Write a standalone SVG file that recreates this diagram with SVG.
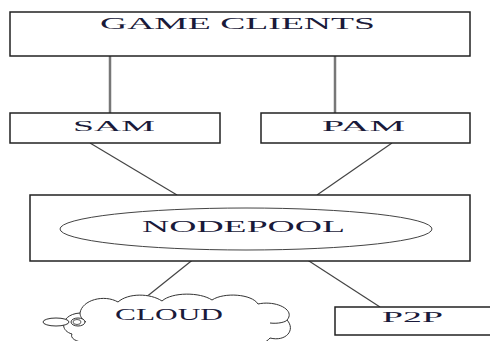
<svg xmlns="http://www.w3.org/2000/svg" width="490" height="341" viewBox="0 0 490 341">
<style>
.box{fill:#fff;stroke:#222;stroke-width:1.5}
.lbl{font-family:"Liberation Serif","Times New Roman",serif;font-size:16px;fill:#1a1a3a}
.ln{stroke:#444;stroke-width:1.2;fill:none}
.vl{stroke:#777;stroke-width:2.5;fill:none}
</style>
<rect width="490" height="341" fill="#fff"/>
<g id="connectors">
<line class="vl" x1="110" y1="56" x2="110" y2="113"/>
<line class="vl" x1="335" y1="56" x2="335" y2="113"/>
<line class="ln" x1="90" y1="143" x2="177" y2="195"/>
<line class="ln" x1="392" y1="143" x2="317" y2="195"/>
<line class="ln" x1="205" y1="250" x2="140" y2="302"/>
<line class="ln" x1="292" y1="250" x2="380" y2="307"/>
</g>
<g id="game-clients">
<rect class="box" x="10" y="12" width="460" height="44"/>
<text class="lbl" x="100" y="29" textLength="275" lengthAdjust="spacingAndGlyphs">GAME CLIENTS</text>
</g>
<g id="sam">
<rect class="box" x="10" y="113" width="210" height="30"/>
<text class="lbl" x="73" y="131" style="font-size:15px" textLength="82" lengthAdjust="spacingAndGlyphs">SAM</text>
</g>
<g id="pam">
<rect class="box" x="261" y="113" width="209" height="30"/>
<text class="lbl" x="322" y="131" style="font-size:15px" textLength="83" lengthAdjust="spacingAndGlyphs">PAM</text>
</g>
<g id="nodepool">
<rect class="box" x="30" y="195" width="440" height="66"/>
<ellipse cx="246" cy="229" rx="186" ry="21" fill="#fff" stroke="#444" stroke-width="1"/>
<text class="lbl" x="142" y="232" textLength="203" lengthAdjust="spacingAndGlyphs">NODEPOOL</text>
</g>
<g id="cloud">
<path d="M 72 334 C 58 330 62 314 80 313 C 82 300 104 294 118 302 C 128 293 150 293 162 301 C 172 292 200 292 212 300 C 224 292 252 294 258 304 C 276 300 296 310 287 320 C 296 330 286 342 270 338 C 262 348 236 348 226 343 C 210 350 180 350 168 344 C 150 350 118 350 108 342 C 92 346 68 342 72 334 Z" fill="#fff" stroke="#333" stroke-width="1"/>
<path d="M 270 323 C 278 324 286 322 287 320" fill="none" stroke="#333" stroke-width="1"/>
<path d="M 80 313 C 80 316 82 320 86 322" fill="none" stroke="#333" stroke-width="1"/>
<ellipse cx="56" cy="322" rx="13" ry="4" fill="#fff" stroke="#333" stroke-width="1"/>
<ellipse cx="78" cy="322" rx="7" ry="4" fill="#fff" stroke="#333" stroke-width="1"/>
<ellipse cx="77" cy="322" rx="4" ry="2.5" fill="none" stroke="#333" stroke-width="0.8"/>
<text class="lbl" x="115" y="320" textLength="108" lengthAdjust="spacingAndGlyphs">CLOUD</text>
</g>
<g id="p2p">
<rect class="box" x="335" y="307" width="160" height="28"/>
<text class="lbl" x="382" y="322" style="font-size:14px" textLength="61" lengthAdjust="spacingAndGlyphs">P2P</text>
</g>
</svg>
